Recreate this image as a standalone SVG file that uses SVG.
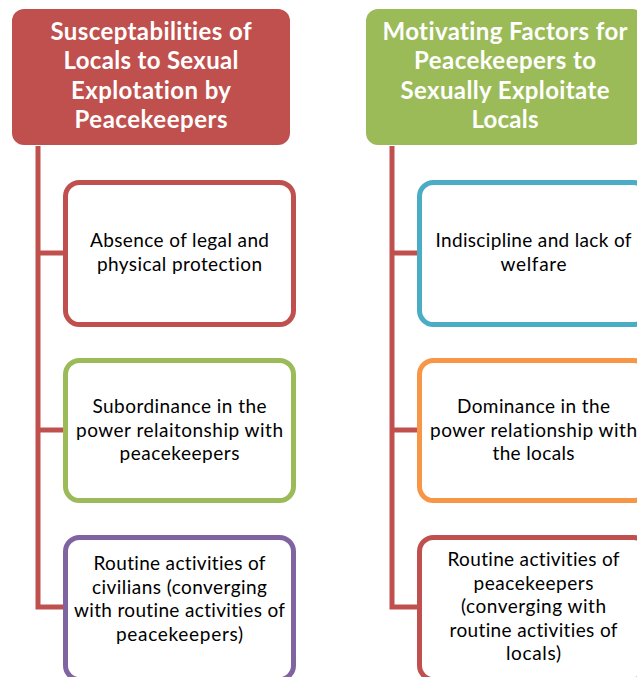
<svg xmlns="http://www.w3.org/2000/svg" width="637" height="677" viewBox="0 0 637 677">
<style>
.hdr{stroke:none}
.box{fill:#FFFFFF;stroke-width:5}
.conn{fill:none;stroke:#C0504D;stroke-width:5}
text{font-variant-ligatures:none;font-feature-settings:"liga" 0,"clig" 0,"dlig" 0}
.ht{font-family:Lato,"Liberation Sans",sans-serif;font-weight:bold;font-size:24px;fill:#FFFFFF;text-anchor:middle}
.bt{font-family:Lato,"Liberation Sans",sans-serif;font-size:19px;fill:#000000;text-anchor:middle}
</style>
<rect width="637" height="677" fill="#FFFFFF"/>
<g id="connectors">
<path class="conn" d="M38,146 V607 H65"/>
<path class="conn" d="M38,253 H65"/>
<path class="conn" d="M38,430 H65"/>
<path class="conn" d="M392,146 V607 H419"/>
<path class="conn" d="M392,253 H419"/>
<path class="conn" d="M392,430 H419"/>
</g>
<g id="header-left">
<rect class="hdr" x="12" y="9" width="278" height="136" rx="12" fill="#C0504D"/>
<text class="ht" x="151" y="39.5" textLength="201" lengthAdjust="spacing">Susceptabilities of</text>
<text class="ht" x="151" y="69" textLength="175" lengthAdjust="spacing">Locals to Sexual</text>
<text class="ht" x="151" y="98.5" textLength="160" lengthAdjust="spacing">Explotation by</text>
<text class="ht" x="151" y="128" textLength="153" lengthAdjust="spacing">Peacekeepers</text>
</g>
<g id="header-right">
<rect class="hdr" x="366" y="9" width="278" height="136" rx="12" fill="#9BBB59"/>
<text class="ht" x="505" y="39.5" textLength="245" lengthAdjust="spacing">Motivating Factors for</text>
<text class="ht" x="505" y="69" textLength="182" lengthAdjust="spacing">Peacekeepers to</text>
<text class="ht" x="505" y="98.5" textLength="209" lengthAdjust="spacing">Sexually Exploitate</text>
<text class="ht" x="505" y="128" textLength="67" lengthAdjust="spacing">Locals</text>
</g>
<g id="left-1">
<rect class="box" x="65.5" y="182.5" width="228" height="142" rx="14" stroke="#C0504D"/>
<text class="bt" x="179.5" y="247" textLength="179" lengthAdjust="spacing">Absence of legal and</text>
<text class="bt" x="179.5" y="270.5" textLength="165" lengthAdjust="spacing">physical protection</text>
</g>
<g id="left-2">
<rect class="box" x="65.5" y="360.5" width="228" height="140" rx="14" stroke="#9BBB59"/>
<text class="bt" x="179.5" y="413" textLength="174" lengthAdjust="spacing">Subordinance in the</text>
<text class="bt" x="179.5" y="436.5" textLength="207" lengthAdjust="spacing">power relaitonship with</text>
<text class="bt" x="179.5" y="460" textLength="120" lengthAdjust="spacing">peacekeepers</text>
</g>
<g id="left-3">
<rect class="box" x="65.5" y="537.5" width="228" height="142" rx="14" stroke="#8064A2"/>
<text class="bt" x="179.5" y="570" textLength="172" lengthAdjust="spacing">Routine activities of</text>
<text class="bt" x="179.5" y="593.5" textLength="175" lengthAdjust="spacing">civilians (converging</text>
<text class="bt" x="179.5" y="617" textLength="211" lengthAdjust="spacing">with routine activities of</text>
<text class="bt" x="179.5" y="640.5" textLength="127" lengthAdjust="spacing">peacekeepers)</text>
</g>
<g id="right-1">
<rect class="box" x="419.5" y="182.5" width="228" height="142" rx="14" stroke="#4BACC6"/>
<text class="bt" x="533.5" y="247" textLength="196" lengthAdjust="spacing">Indiscipline and lack of</text>
<text class="bt" x="533.5" y="270.5" textLength="66" lengthAdjust="spacing">welfare</text>
</g>
<g id="right-2">
<rect class="box" x="419.5" y="360.5" width="228" height="140" rx="14" stroke="#F79646"/>
<text class="bt" x="533.5" y="413" textLength="153" lengthAdjust="spacing">Dominance in the</text>
<text class="bt" x="533.5" y="436.5" textLength="207" lengthAdjust="spacing">power relationship with</text>
<text class="bt" x="533.5" y="460" textLength="82" lengthAdjust="spacing">the locals</text>
</g>
<g id="right-3">
<rect class="box" x="419.5" y="537.5" width="228" height="142" rx="14" stroke="#C0504D"/>
<text class="bt" x="533.5" y="566" textLength="172" lengthAdjust="spacing">Routine activities of</text>
<text class="bt" x="533.5" y="589.5" textLength="120" lengthAdjust="spacing">peacekeepers</text>
<text class="bt" x="533.5" y="613" textLength="145" lengthAdjust="spacing">(converging with</text>
<text class="bt" x="533.5" y="636.5" textLength="168" lengthAdjust="spacing">routine activities of</text>
<text class="bt" x="533.5" y="660" textLength="55" lengthAdjust="spacing">locals)</text>
</g>
</svg>
